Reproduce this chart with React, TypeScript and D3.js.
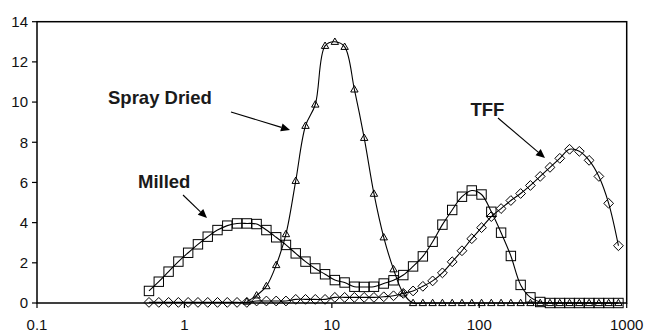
import React from "react";
import * as d3 from "d3";

const sizes = [0.575,0.670,0.781,0.910,1.060,1.235,1.439,1.676,1.953,2.275,2.651,3.088,3.597,4.192,4.883,5.689,6.627,7.721,8.995,10.48,12.21,14.22,16.57,19.30,22.49,26.20,30.52,35.56,41.43,48.26,56.23,65.51,76.31,88.92,103.6,120.7,140.6,163.8,190.8,222.3,259.0,301.7,351.6,409.6,477.1,555.9,647.6,754.5,879.0];

const milled = [0.60,1.06,1.56,2.06,2.50,2.92,3.30,3.63,3.85,3.96,3.96,3.93,3.63,3.27,2.89,2.47,2.06,1.72,1.43,1.14,1.02,0.81,0.80,0.81,0.97,1.13,1.39,1.82,2.32,3.05,3.90,4.63,5.29,5.60,5.40,4.54,3.50,2.34,0.90,0.28,0.05,0,0,0,0,0,0,0,0];

const sprayDried: (number | null)[] = [null,null,null,null,null,null,null,null,null,null,0.07,0.38,0.84,1.89,3.43,6.08,8.82,9.88,12.8,13.0,12.75,10.63,8.22,5.44,3.27,1.68,0.48,0,0,0,0,0,0,0,0,0,0,0,0,0,0,0,0,0,0,0,0,0,0];

const tff = [0.03,0.03,0.03,0.03,0.03,0.03,0.03,0.03,0.03,0.03,0.03,0.1,0.1,0.1,0.1,0.18,0.18,0.18,0.18,0.28,0.28,0.28,0.28,0.28,0.31,0.36,0.48,0.6,0.83,1.1,1.5,2.05,2.6,3.2,3.75,4.3,4.7,5.1,5.45,5.85,6.3,6.75,7.2,7.65,7.55,7.1,6.3,4.96,2.85];

const xTicks = [0.1, 1, 10, 100, 1000];
const xTickLabels = ["0.1", "1", "10", "100", "1000"];
const yTicks = [0, 2, 4, 6, 8, 10, 12, 14];

const labels = [
  { text: "Spray Dried", x: 108, y: 104, from: [231, 112], to: [290, 130] },
  { text: "Milled", x: 138, y: 188, from: [183, 195], to: [207, 218] },
  { text: "TFF", x: 470.5, y: 116, from: [498, 118], to: [545, 158] },
];

const W = 648, H = 332;
const L = 37, R = 626.7, T = 21.7, B = 303;
const FONT = "'Liberation Sans', Arial, Helvetica, sans-serif";

export default function App() {
  const x = d3.scaleLog().domain([0.1, 1000]).range([L, R]);
  const y = d3.scaleLinear().domain([0, 14]).range([B, T]);

  const mk = (vals: (number | null)[]) =>
    sizes.map((s, i) => ({ s, v: vals[i] })).filter((d) => d.v !== null && d.v !== undefined) as { s: number; v: number }[];

  const line = d3
    .line<{ s: number; v: number }>()
    .x((d) => x(d.s))
    .y((d) => y(d.v))
    .curve(d3.curveCatmullRom.alpha(0.5));

  const mData = mk(milled);
  const sData = mk(sprayDried);
  const tData = mk(tff);

  const arrowHead = (from: number[], to: number[]) => {
    const dx = to[0] - from[0], dy = to[1] - from[1];
    const len = Math.hypot(dx, dy);
    const ux = dx / len, uy = dy / len;
    const hl = 9, hw = 4;
    const bx = to[0] - ux * hl, by = to[1] - uy * hl;
    return {
      pts: `${to[0]},${to[1]} ${bx - uy * hw},${by + ux * hw} ${bx + uy * hw},${by - ux * hw}`,
      bx, by,
    };
  };

  return (
    <svg width={W} height={H} style={{ position: "absolute", left: 0, top: 0, background: "#fff" }} fontFamily={FONT}>
      <rect x={0} y={0} width={W} height={H} fill="#fff" />
      {yTicks.map((t) => (
        <g key={"y" + t}>
          <line x1={L - 5} x2={L} y1={y(t)} y2={y(t)} stroke="#000" strokeWidth={1.2} />
          <text x={L - 9} y={y(t)} dy="0.36em" textAnchor="end" fontSize={15} fill="#111">
            {t}
          </text>
        </g>
      ))}
      {xTicks.map((t, i) => (
        <g key={"x" + t}>
          <line x1={x(t)} x2={x(t)} y1={B} y2={B + 5} stroke="#000" strokeWidth={1.2} />
          <text x={x(t)} y={329.5} textAnchor="middle" fontSize={15} fill="#111">
            {xTickLabels[i]}
          </text>
        </g>
      ))}
      <path d={line(tData) || ""} fill="none" stroke="#000" strokeWidth={1.1} />
      <path d={line(mData) || ""} fill="none" stroke="#000" strokeWidth={1.1} />
      <path d={line(sData) || ""} fill="none" stroke="#000" strokeWidth={1.1} />
      {tData.map((d, i) => {
        const cx = x(d.s), cy = y(d.v), r = 4.9;
        return (
          <polygon key={"t" + i} points={`${cx},${cy - r} ${cx + r},${cy} ${cx},${cy + r} ${cx - r},${cy}`} fill="none" stroke="#000" strokeWidth={1} />
        );
      })}
      {mData.map((d, i) => {
        const cx = x(d.s), cy = y(d.v), h = 4.7;
        return <rect key={"m" + i} x={cx - h} y={cy - h} width={2 * h} height={2 * h} fill="none" stroke="#000" strokeWidth={1} />;
      })}
      {sData.map((d, i) => {
        const cx = x(d.s), cy = y(d.v);
        return (
          <polygon key={"s" + i} points={`${cx},${cy - 3.8} ${cx + 3.7},${cy + 2.6} ${cx - 3.7},${cy + 2.6}`} fill="none" stroke="#000" strokeWidth={1} />
        );
      })}
      <rect x={L} y={T} width={R - L} height={B - T} fill="none" stroke="#000" strokeWidth={1.5} />
      {labels.map((lb) => {
        const a = arrowHead(lb.from, lb.to);
        return (
          <g key={lb.text}>
            <text x={lb.x} y={lb.y} fontSize={18.5} fontWeight="bold" fill="#1a1a1a">
              {lb.text}
            </text>
            <line x1={lb.from[0]} y1={lb.from[1]} x2={a.bx} y2={a.by} stroke="#000" strokeWidth={1.1} />
            <polygon points={a.pts} fill="#000" />
          </g>
        );
      })}
    </svg>
  );
}
